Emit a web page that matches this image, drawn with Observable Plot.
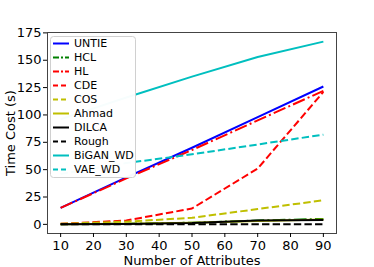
<!DOCTYPE html>
<html>
<head>
<meta charset="utf-8">
<script src="https://cdn.jsdelivr.net/npm/d3@7"></script>
<script src="https://cdn.jsdelivr.net/npm/@observablehq/plot@0.6"></script>
<style>
  html, body { margin: 0; padding: 0; background: #fff; }
</style>
</head>
<body>
<div id="chart"></div>
<script>
const attributes = [10, 30, 50, 70, 90];
const seriesNames = ["UNTIE", "HCL", "HL", "CDE", "COS", "Ahmad", "DILCA", "Rough", "BiGAN_WD", "VAE_WD"];
const UNTIE    = [15, 43, 70, 98, 126];
const HCL      = [0.2, 0.6, 1.5, 3.5, 5];
const HL       = [15, 42, 68, 95, 122];
const CDE      = [0.5, 3.5, 14.5, 51, 121];
const COS      = [0.5, 2.5, 6, 14, 22];
const Ahmad    = [0.1, 0.5, 1.5, 3, 4.5];
const DILCA    = [0.1, 0.4, 1.2, 3.5, 4];
const Rough    = [0, 0, 0, 0, 0];
const BiGAN_WD = [96, 116, 135, 153, 167];
const VAE_WD   = [46, 56, 64, 73, 82];
const xTicks = [10, 20, 30, 40, 50, 60, 70, 80, 90];
const yTicks = [0, 25, 50, 75, 100, 125, 150, 175];

const valuesBySeries = {UNTIE, HCL, HL, CDE, COS, Ahmad, DILCA, Rough, BiGAN_WD, VAE_WD};
const styles = {
  UNTIE:    {stroke: "#0000ff", dash: null},
  HCL:      {stroke: "#008000", dash: "12.8,3.2,2,3.2"},
  HL:       {stroke: "#ff0000", dash: "12.8,3.2,2,3.2"},
  CDE:      {stroke: "#ff0000", dash: "7.4,3.2"},
  COS:      {stroke: "#bfbf00", dash: "7.4,3.2"},
  Ahmad:    {stroke: "#bfbf00", dash: null},
  DILCA:    {stroke: "#000000", dash: null},
  Rough:    {stroke: "#000000", dash: "7.4,3.2"},
  BiGAN_WD: {stroke: "#00bfbf", dash: null},
  VAE_WD:   {stroke: "#00bfbf", dash: "7.4,3.2"}
};

const lineMarks = seriesNames.map(name => {
  const data = attributes.map((a, i) => ({x: a, y: valuesBySeries[name][i]}));
  return Plot.line(data, {
    x: "x", y: "y",
    stroke: styles[name].stroke,
    strokeWidth: 2,
    strokeDasharray: styles[name].dash,
    strokeLinecap: "butt"
  });
});

const chart = Plot.plot({
  width: 374,
  height: 267,
  marginLeft: 47,
  marginRight: 38,
  marginTop: 32,
  marginBottom: 34,
  style: {fontFamily: "DejaVu Sans", fontSize: "13px", background: "#fff", color: "#000"},
  x: {domain: [6, 94]},
  y: {domain: [-8.35, 175.35]},
  marks: [
    ...lineMarks,
    Plot.frame({stroke: "#444", strokeWidth: 1}),
    Plot.axisX({ticks: xTicks, tickSize: 4, tickPadding: 3, fontSize: 13,
      label: "Number of Attributes", labelAnchor: "center", labelArrow: "none", labelOffset: 31}),
    Plot.axisY({ticks: yTicks, tickSize: 4, tickPadding: 2, fontSize: 13,
      label: "Time Cost (s)", labelAnchor: "center", labelArrow: "none", labelOffset: 42})
  ]
});

document.getElementById("chart").appendChild(chart);

// legend (upper left, matplotlib style)
const svg = d3.select(chart);
const lg = svg.append("g")
  .style("font-family", "DejaVu Sans").style("font-size", "11px");
lg.append("rect").attr("x", 50.5).attr("y", 36.5).attr("width", 85).attr("height", 141)
  .attr("rx", 3)
  .style("fill", "#ffffff").style("fill-opacity", 0.97).style("stroke", "#d0d0d0").style("stroke-width", 1);
seriesNames.forEach((name, i) => {
  const y = 43.5 + i * 14;
  const d = styles[name].dash;
  lg.append("line").attr("x1", 53).attr("x2", 69).attr("y1", y).attr("y2", y)
    .style("stroke", styles[name].stroke).style("stroke-width", 2)
    .style("stroke-dasharray", d ? (d.split(",").length > 2 ? "6,2,2,2" : "5,3") : "none");
  lg.append("text").attr("x", 74).attr("y", y).attr("dy", "0.35em")
    .style("fill", "#000").style("text-anchor", "start").text(name);
});
</script>
</body>
</html>
